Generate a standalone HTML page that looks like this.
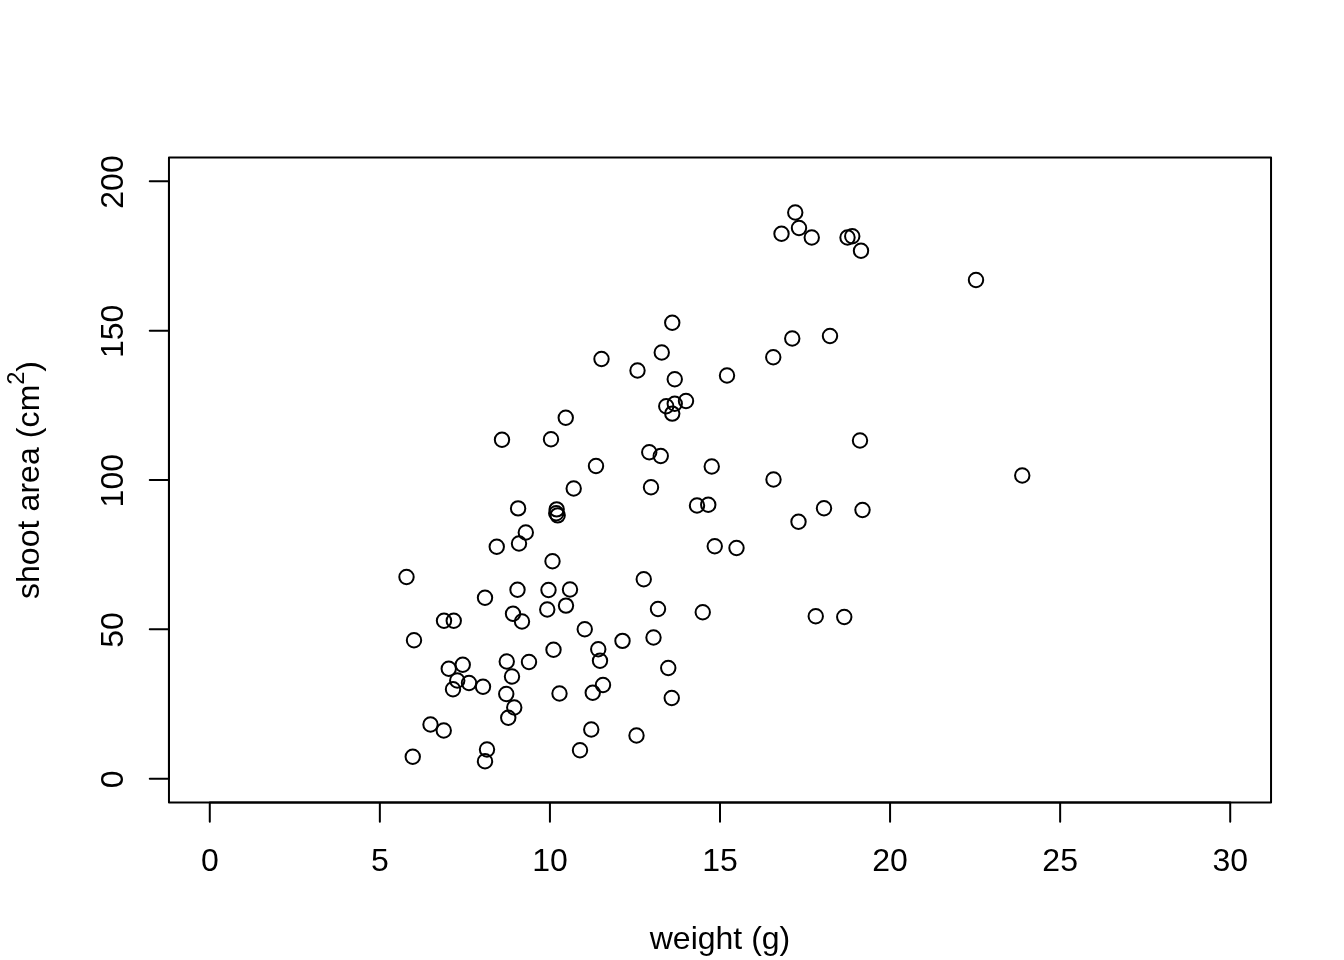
<!DOCTYPE html>
<html><head><meta charset="utf-8"><title>plot</title>
<style>
html,body{margin:0;padding:0;background:#fff}
svg{display:block}
text{font-family:"Liberation Sans",sans-serif;font-size:32px;fill:#000}
</style></head><body>
<svg width="1344" height="960" viewBox="0 0 1344 960">
<rect width="1344" height="960" fill="#fff"/>
<g fill="none" stroke="#000" stroke-width="2" stroke-linecap="round" stroke-linejoin="round">
<rect x="168.96" y="157.44" width="1102.08" height="645.12"/>
<path d="M209.78 802.56H1230.22M209.78 802.56v19.2M379.85 802.56v19.2M549.93 802.56v19.2M720.00 802.56v19.2M890.07 802.56v19.2M1060.15 802.56v19.2M1230.22 802.56v19.2"/>
<path d="M168.96 778.67V181.33M168.96 778.67h-19.2M168.96 629.33h-19.2M168.96 480.00h-19.2M168.96 330.67h-19.2M168.96 181.33h-19.2"/>
</g>
<g fill="none" stroke="#000" stroke-width="2">
<circle cx="795.25" cy="212.50" r="7.2"/>
<circle cx="781.50" cy="233.75" r="7.2"/>
<circle cx="799.00" cy="228.00" r="7.2"/>
<circle cx="811.75" cy="237.50" r="7.2"/>
<circle cx="847.50" cy="237.50" r="7.2"/>
<circle cx="852.25" cy="236.25" r="7.2"/>
<circle cx="861.00" cy="250.75" r="7.2"/>
<circle cx="976.00" cy="280.00" r="7.2"/>
<circle cx="792.25" cy="338.50" r="7.2"/>
<circle cx="830.00" cy="336.00" r="7.2"/>
<circle cx="773.25" cy="357.25" r="7.2"/>
<circle cx="727.00" cy="375.50" r="7.2"/>
<circle cx="672.25" cy="322.75" r="7.2"/>
<circle cx="661.75" cy="352.50" r="7.2"/>
<circle cx="601.50" cy="359.00" r="7.2"/>
<circle cx="637.50" cy="370.50" r="7.2"/>
<circle cx="674.75" cy="379.25" r="7.2"/>
<circle cx="686.00" cy="401.00" r="7.2"/>
<circle cx="674.75" cy="403.75" r="7.2"/>
<circle cx="666.25" cy="406.25" r="7.2"/>
<circle cx="672.25" cy="413.60" r="7.2"/>
<circle cx="565.75" cy="417.75" r="7.2"/>
<circle cx="502.00" cy="439.75" r="7.2"/>
<circle cx="551.00" cy="439.25" r="7.2"/>
<circle cx="649.25" cy="452.25" r="7.2"/>
<circle cx="660.75" cy="456.00" r="7.2"/>
<circle cx="596.00" cy="466.00" r="7.2"/>
<circle cx="711.75" cy="466.50" r="7.2"/>
<circle cx="573.70" cy="488.50" r="7.2"/>
<circle cx="651.00" cy="487.25" r="7.2"/>
<circle cx="518.10" cy="508.40" r="7.2"/>
<circle cx="556.67" cy="509.33" r="7.2"/>
<circle cx="556.25" cy="513.25" r="7.2"/>
<circle cx="557.67" cy="515.33" r="7.2"/>
<circle cx="697.00" cy="505.50" r="7.2"/>
<circle cx="708.25" cy="504.75" r="7.2"/>
<circle cx="525.80" cy="532.50" r="7.2"/>
<circle cx="519.00" cy="543.50" r="7.2"/>
<circle cx="496.75" cy="546.75" r="7.2"/>
<circle cx="714.75" cy="546.25" r="7.2"/>
<circle cx="552.50" cy="561.25" r="7.2"/>
<circle cx="406.50" cy="577.00" r="7.2"/>
<circle cx="643.75" cy="579.25" r="7.2"/>
<circle cx="517.50" cy="589.75" r="7.2"/>
<circle cx="548.50" cy="590.00" r="7.2"/>
<circle cx="570.00" cy="589.50" r="7.2"/>
<circle cx="485.00" cy="597.75" r="7.2"/>
<circle cx="547.25" cy="609.50" r="7.2"/>
<circle cx="566.00" cy="605.60" r="7.2"/>
<circle cx="658.00" cy="609.00" r="7.2"/>
<circle cx="702.75" cy="612.25" r="7.2"/>
<circle cx="513.00" cy="613.75" r="7.2"/>
<circle cx="522.00" cy="621.50" r="7.2"/>
<circle cx="444.00" cy="620.75" r="7.2"/>
<circle cx="453.75" cy="620.75" r="7.2"/>
<circle cx="584.75" cy="629.25" r="7.2"/>
<circle cx="414.00" cy="640.25" r="7.2"/>
<circle cx="653.50" cy="637.50" r="7.2"/>
<circle cx="622.50" cy="640.90" r="7.2"/>
<circle cx="553.50" cy="649.75" r="7.2"/>
<circle cx="598.25" cy="649.25" r="7.2"/>
<circle cx="860.00" cy="440.50" r="7.2"/>
<circle cx="773.50" cy="479.50" r="7.2"/>
<circle cx="1022.25" cy="475.50" r="7.2"/>
<circle cx="824.00" cy="508.25" r="7.2"/>
<circle cx="862.50" cy="510.00" r="7.2"/>
<circle cx="798.50" cy="521.75" r="7.2"/>
<circle cx="736.50" cy="548.00" r="7.2"/>
<circle cx="815.75" cy="616.25" r="7.2"/>
<circle cx="844.25" cy="617.00" r="7.2"/>
<circle cx="600.00" cy="660.75" r="7.2"/>
<circle cx="506.75" cy="661.50" r="7.2"/>
<circle cx="529.00" cy="662.00" r="7.2"/>
<circle cx="462.75" cy="664.75" r="7.2"/>
<circle cx="448.75" cy="668.75" r="7.2"/>
<circle cx="668.25" cy="668.00" r="7.2"/>
<circle cx="512.00" cy="676.50" r="7.2"/>
<circle cx="457.25" cy="680.50" r="7.2"/>
<circle cx="469.00" cy="683.00" r="7.2"/>
<circle cx="483.00" cy="686.75" r="7.2"/>
<circle cx="453.00" cy="689.25" r="7.2"/>
<circle cx="603.00" cy="685.00" r="7.2"/>
<circle cx="592.75" cy="692.75" r="7.2"/>
<circle cx="559.50" cy="693.50" r="7.2"/>
<circle cx="506.25" cy="694.00" r="7.2"/>
<circle cx="671.75" cy="698.00" r="7.2"/>
<circle cx="514.25" cy="707.50" r="7.2"/>
<circle cx="508.25" cy="717.75" r="7.2"/>
<circle cx="430.50" cy="724.50" r="7.2"/>
<circle cx="443.75" cy="730.50" r="7.2"/>
<circle cx="591.25" cy="729.50" r="7.2"/>
<circle cx="636.50" cy="735.50" r="7.2"/>
<circle cx="487.00" cy="749.50" r="7.2"/>
<circle cx="580.00" cy="750.25" r="7.2"/>
<circle cx="412.75" cy="756.75" r="7.2"/>
<circle cx="485.00" cy="761.25" r="7.2"/>
</g>
<g text-anchor="middle">
<text x="209.78" y="871.4">0</text>
<text x="379.85" y="871.4">5</text>
<text x="549.93" y="871.4">10</text>
<text x="720.00" y="871.4">15</text>
<text x="890.07" y="871.4">20</text>
<text x="1060.15" y="871.4">25</text>
<text x="1230.22" y="871.4">30</text>
<text transform="translate(122.8 779.37) rotate(-90)">0</text>
<text transform="translate(122.8 630.03) rotate(-90)">50</text>
<text transform="translate(122.8 480.70) rotate(-90)">100</text>
<text transform="translate(122.8 331.37) rotate(-90)">150</text>
<text transform="translate(122.8 182.03) rotate(-90)">200</text>
<text x="720" y="948.5">weight (g)</text>
<text text-anchor="start" letter-spacing="0.075" transform="translate(38.9 599.1) rotate(-90)">shoot area (cm</text>
<text text-anchor="start" font-size="23.6" style="font-size:23.6px" transform="translate(23.5 384.7) rotate(-90)">2</text>
<text text-anchor="start" transform="translate(38.9 371.75) rotate(-90)">)</text>
</g></svg></body></html>
